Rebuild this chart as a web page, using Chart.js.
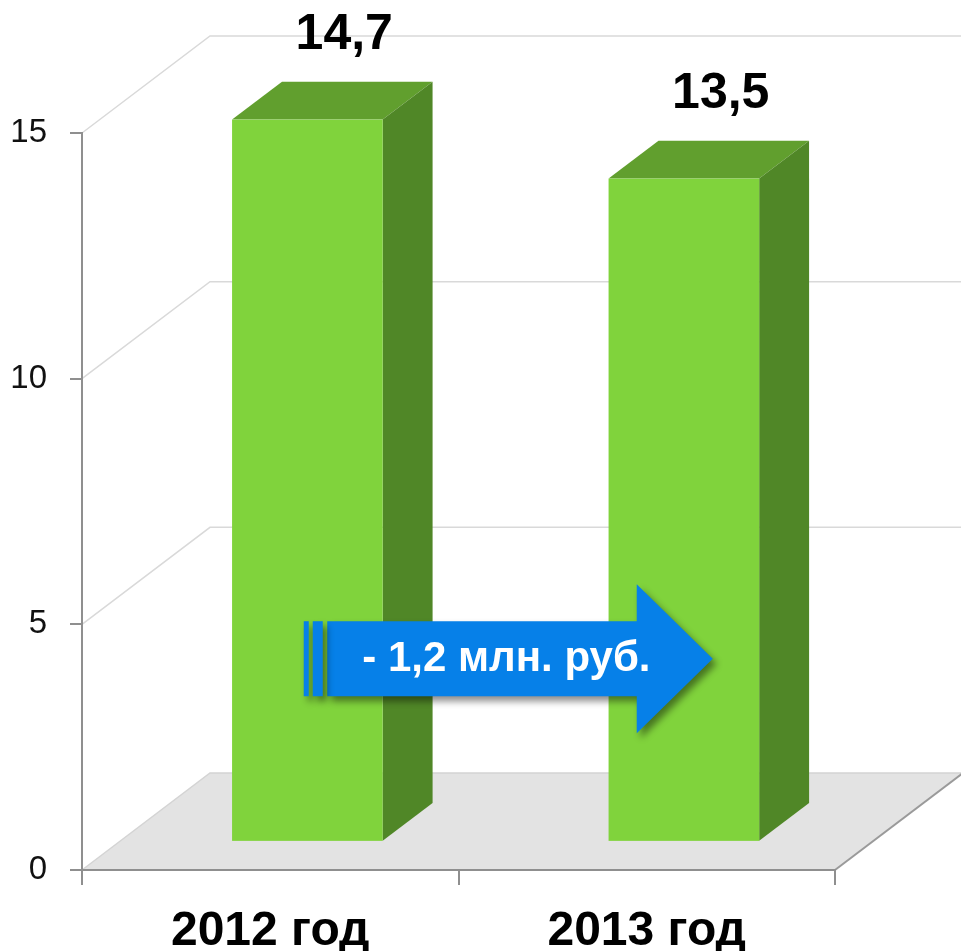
<!DOCTYPE html>
<html>
<head>
<meta charset="utf-8">
<script src="https://cdn.jsdelivr.net/npm/chart.js@4/dist/chart.umd.min.js"></script>
<style>
    body { margin: 0; background: #fff; }
    #wrap { width: 961px; height: 951px; }
</style>
</head>
<body>
<div id="wrap"><canvas id="chart" width="961" height="951"></canvas></div>
<script>
// Data
const categories = ['2012 год', '2013 год'];
const values = [14.7, 13.5];
const valueLabels = ['14,7', '13,5'];
const yTicks = [0, 5, 10, 15];

const FONT = '"Liberation Sans", Arial, sans-serif';

// 3D look
const depthX = 128;
const depthY = 97;
const barFront = 0.29;
const barBack = 0.68;

const colFront = '#80d33c';
const colTop = '#619f2e';
const colSide = '#508727';

function diffText() {
    let d = values[1] - values[0];
    let sign = d < 0 ? '- ' : '+ ';
    return sign + Math.abs(d).toFixed(1).replace('.', ',') + ' млн. руб.';
}

const wallPlugin = {
    id: 'wall',
    beforeDraw(chart) {
        const ctx = chart.ctx;
        const area = chart.chartArea;
        const ys = chart.scales.y;
        const w = chart.width;
        ctx.save();

        // back wall gridlines
        ctx.strokeStyle = '#d9d9d9';
        ctx.lineWidth = 1.5;
        yTicks.forEach(v => {
            if (v === 0) return;
            let y = ys.getPixelForValue(v);
            ctx.beginPath();
            ctx.moveTo(area.left, y);
            ctx.lineTo(area.left + depthX, y - depthY);
            ctx.lineTo(w, y - depthY);
            ctx.stroke();
        });

        // floor
        let y0 = ys.getPixelForValue(0);
        ctx.beginPath();
        ctx.moveTo(area.left, y0);
        ctx.lineTo(area.left + depthX, y0 - depthY);
        ctx.lineTo(area.right + depthX, y0 - depthY);
        ctx.lineTo(area.right, y0);
        ctx.closePath();
        ctx.fillStyle = '#e3e3e3';
        ctx.fill();

        ctx.strokeStyle = '#d4d4d4';
        ctx.beginPath();
        ctx.moveTo(area.left, y0);
        ctx.lineTo(area.left + depthX, y0 - depthY);
        ctx.lineTo(area.right + depthX, y0 - depthY);
        ctx.stroke();

        ctx.strokeStyle = '#9a9a9a';
        ctx.lineWidth = 2;
        ctx.beginPath();
        ctx.moveTo(area.right, y0);
        ctx.lineTo(area.right + depthX, y0 - depthY);
        ctx.stroke();
        ctx.restore();
    }
};

const barsPlugin = {
    id: 'bars3d',
    afterDatasetsDraw(chart) {
        const ctx = chart.ctx;
        const meta = chart.getDatasetMeta(0);
        const fdx = depthX * barFront, fdy = -depthY * barFront;
        const sdx = depthX * (barBack - barFront), sdy = -depthY * (barBack - barFront);
        ctx.save();
        meta.data.forEach((bar, i) => {
            let l = bar.x - bar.width / 2 + fdx;
            let r = bar.x + bar.width / 2 + fdx;
            let t = bar.y + fdy;
            let b = bar.base + fdy;

            // top
            ctx.fillStyle = colTop;
            ctx.beginPath();
            ctx.moveTo(l, t);
            ctx.lineTo(l + sdx, t + sdy);
            ctx.lineTo(r + sdx, t + sdy);
            ctx.lineTo(r, t);
            ctx.closePath();
            ctx.fill();

            // side
            ctx.fillStyle = colSide;
            ctx.beginPath();
            ctx.moveTo(r, t);
            ctx.lineTo(r + sdx, t + sdy);
            ctx.lineTo(r + sdx, b + sdy);
            ctx.lineTo(r, b);
            ctx.closePath();
            ctx.fill();

            // front
            ctx.fillStyle = colFront;
            ctx.fillRect(l, t, r - l, b - t);

            // value label
            ctx.fillStyle = '#000';
            ctx.font = 'bold 50px ' + FONT;
            ctx.textAlign = 'center';
            ctx.textBaseline = 'alphabetic';
            ctx.fillText(valueLabels[i], bar.x + 74, bar.y - 99);
        });
        ctx.restore();
    }
};

const arrowPlugin = {
    id: 'arrow',
    afterDraw(chart) {
        const ctx = chart.ctx;
        const xs = chart.scales.x;
        const ys = chart.scales.y;
        const x0 = xs.getPixelForValue(0);
        const x1 = xs.getPixelForValue(1);
        const yc = ys.getPixelForValue(4.3);

        const bodyL = x0 + 57;
        const headL = x1 - 10;
        const tip = x1 + 66;
        const bh = 37.5;
        const hh = 74.5;

        ctx.save();
        ctx.fillStyle = '#0680e8';
        ctx.shadowColor = 'rgba(0,0,0,0.45)';
        ctx.shadowBlur = 7;
        ctx.shadowOffsetX = 4;
        ctx.shadowOffsetY = 5;

        ctx.beginPath();
        ctx.moveTo(bodyL, yc - bh);
        ctx.lineTo(headL, yc - bh);
        ctx.lineTo(headL, yc - hh);
        ctx.lineTo(tip, yc);
        ctx.lineTo(headL, yc + hh);
        ctx.lineTo(headL, yc + bh);
        ctx.lineTo(bodyL, yc + bh);
        ctx.closePath();
        ctx.fill();

        // stripes at the tail
        ctx.fillRect(x0 + 33.5, yc - bh, 5, bh * 2);
        ctx.fillRect(x0 + 42.5, yc - bh, 10, bh * 2);

        ctx.shadowColor = 'transparent';
        ctx.fillStyle = '#fff';
        ctx.font = 'bold 42px ' + FONT;
        ctx.textAlign = 'left';
        ctx.textBaseline = 'alphabetic';
        ctx.fillText(diffText(), bodyL + 35, yc + 12);
        ctx.restore();
    }
};

new Chart(document.getElementById('chart'), {
    type: 'bar',
    data: {
        labels: categories,
        datasets: [{
            data: values,
            backgroundColor: 'rgba(0,0,0,0)',
            borderWidth: 0,
            categoryPercentage: 0.4,
            barPercentage: 1,
        }],
    },
    options: {
        responsive: false,
        animation: false,
        layout: { padding: { top: 133, right: 126, left: 0, bottom: 0 } },
        plugins: {
            legend: { display: false },
            tooltip: { enabled: false },
        },
        scales: {
            x: {
                afterFit: s => { s.height = 81; },
                grid: {
                    drawOnChartArea: false,
                    tickLength: 15,
                    color: '#8f8f8f',
                    lineWidth: 2,
                },
                border: { color: '#8f8f8f', width: 2 },
                ticks: {
                    color: '#000',
                    padding: 18,
                    font: { family: FONT, size: 48, weight: 'bold' },
                },
            },
            y: {
                min: 0,
                max: 15,
                afterFit: s => { s.width = 82; },
                afterBuildTicks: s => { s.ticks = yTicks.map(v => ({ value: v })); },
                grid: {
                    drawOnChartArea: false,
                    tickLength: 12,
                    color: '#8f8f8f',
                    lineWidth: 2,
                },
                border: { color: '#8f8f8f', width: 2 },
                ticks: {
                    color: '#111',
                    padding: 23,
                    font: { family: FONT, size: 33 },
                },
            },
        },
    },
    plugins: [wallPlugin, barsPlugin, arrowPlugin],
});
</script>
</body>
</html>
